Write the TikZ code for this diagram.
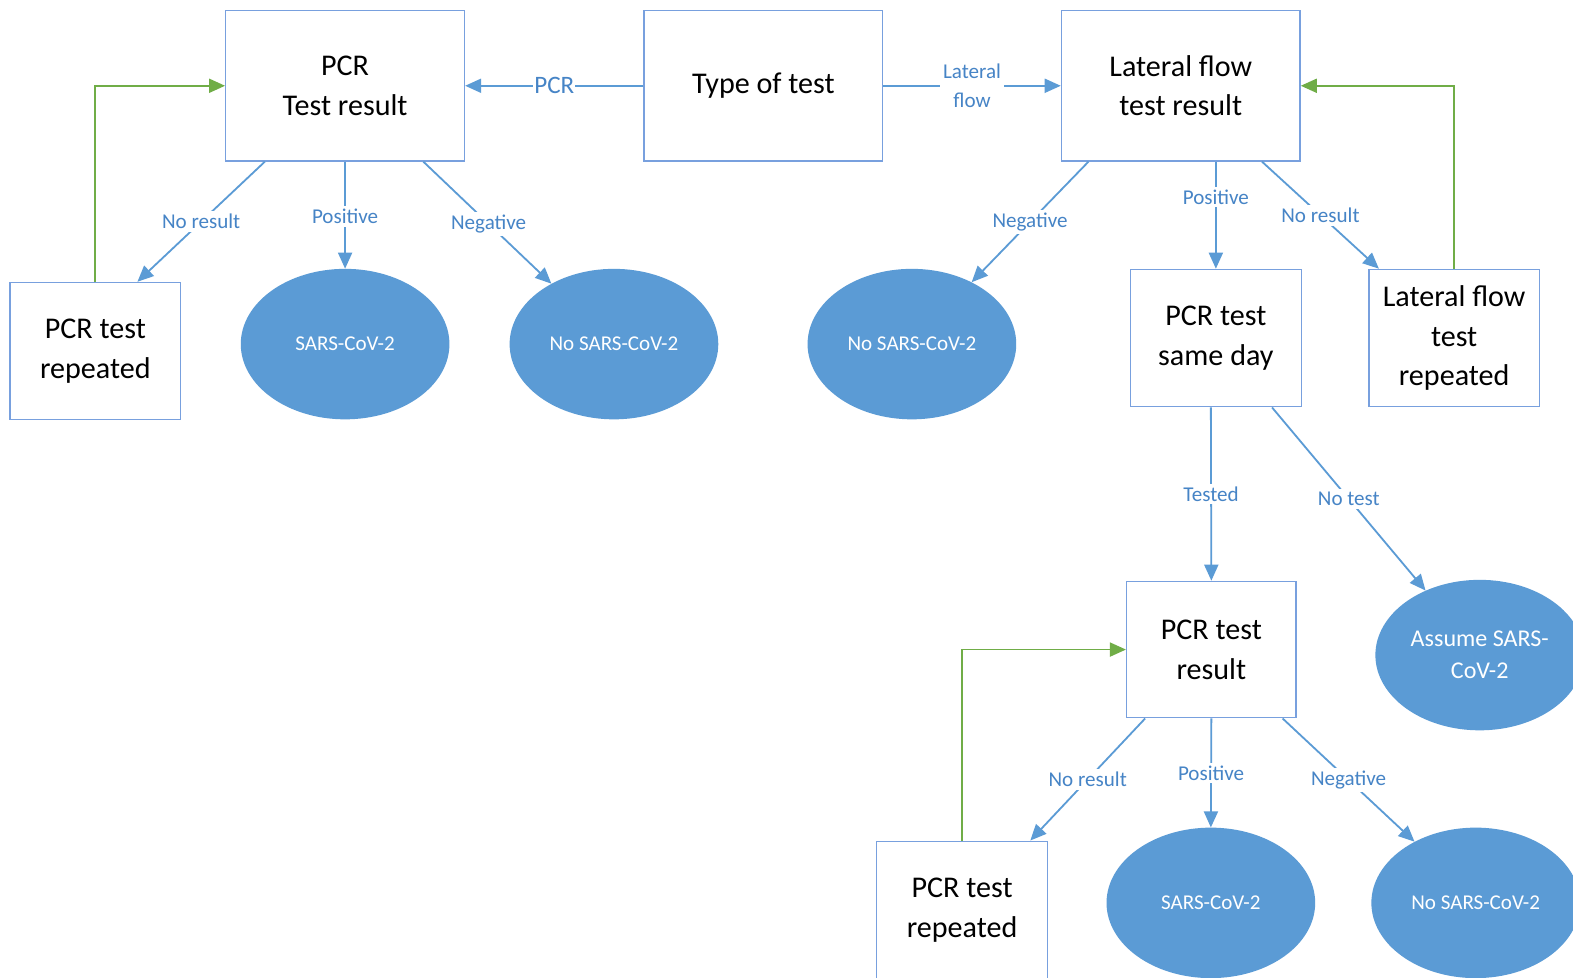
\documentclass[tikz,border=0pt]{standalone}
\usepackage{fontspec}
\setmainfont{Carlito}
\usetikzlibrary{arrows.meta,shapes.geometric}
\definecolor{lineblue}{RGB}{91,155,213}
\definecolor{boxblue}{RGB}{120,160,222}
\definecolor{lblblue}{RGB}{70,132,198}
\definecolor{fillblue}{RGB}{91,155,213}
\definecolor{lgreen}{RGB}{112,173,71}
\tikzset{
  box/.style={draw=boxblue, line width=1.3pt, fill=white, inner sep=0pt, align=center,
    font=\fontsize{30}{39.5}\selectfont},
  bigbox/.style={box, minimum width=238pt, minimum height=150pt},
  smallbox/.style={box, minimum width=170pt, minimum height=137pt},
  oval/.style={ellipse, fill=fillblue, draw=none, minimum width=208pt, minimum height=150pt,
    inner sep=0pt, align=center, text=white, font=\fontsize{21}{26}\selectfont},
  conn/.style={draw=lineblue, line width=1.8pt, -{Triangle[length=16pt,width=14pt]}},
  back/.style={draw=lgreen, line width=1.8pt, -{Triangle[length=16pt,width=14pt]}},
  lbl/.style={fill=white, text=lblblue, inner sep=3pt, align=center,
    font=\fontsize{21}{28}\selectfont}
}
\begin{document}
\begin{tikzpicture}[x=1pt,y=-1pt]
\useasboundingbox (0,0) rectangle (1568,974);
\clip (0,0) rectangle (1568,974);
\fill[white] (0,0) rectangle (1568,974);
% boxes
\node[bigbox] (pcr) at (344,85.5) {PCR\\Test result};
\node[bigbox] (type) at (761,85.5) {Type of test};
\node[bigbox] (lf) at (1177,85.5) {Lateral flow\\test result};
\node[smallbox] (rep1) at (95,350) {PCR test\\repeated};
\node[smallbox] (same) at (1212,337) {PCR test\\same day};
\node[smallbox] (lfrep) at (1449.5,337) {Lateral flow\\test\\repeated};
\node[smallbox, minimum width=169pt, minimum height=136pt] (pcr2) at (1207.5,647.5) {PCR test\\result};
\node[smallbox] (rep3) at (959,907) {PCR test\\repeated};
% ovals
\node[oval] (sars1) at (344,343) {SARS-CoV-2};
\node[oval] (nosars1) at (612,343) {No SARS-CoV-2};
\node[oval] (nosars2) at (909,343) {No SARS-CoV-2};
\node[oval, font=\fontsize{24}{32}\selectfont] (assume) at (1475,653) {Assume SARS-\\CoV-2};
\node[oval] (sars3) at (1207,900) {SARS-CoV-2};
\node[oval] (nosars3) at (1471,900) {No SARS-CoV-2};
% top connectors
\draw[conn] (type.west) -- node[lbl, pos=0.5, font=\fontsize{25}{30}\selectfont, inner sep=1pt]{PCR} (pcr.east);
\draw[conn] (type.east) -- node[lbl, pos=0.5]{Lateral\\flow} (lf.west);
% PCR result
\draw[conn] ([xshift=-80pt]pcr.south) -- node[lbl, pos=0.5]{No result} ([xshift=42pt]rep1.north);
\draw[conn] (pcr.south) -- node[lbl, pos=0.51]{Positive} (sars1.north);
\draw[conn] ([xshift=78pt]pcr.south) -- node[lbl, pos=0.51]{Negative} (nosars1.136);
\draw[back] (rep1.north) |- (pcr.west);
% Lateral flow result
\draw[conn] ([xshift=-92pt]lf.south) -- node[lbl, pos=0.5]{Negative} (nosars2.46);
\draw[conn] ([xshift=35pt]lf.south) -- node[lbl, pos=0.33]{Positive} (same.north);
\draw[conn] ([xshift=81pt]lf.south) -- node[lbl, pos=0.5]{No result} ([xshift=-75pt]lfrep.north);
\draw[back] (lfrep.north) |- (lf.east);
% PCR same day
\draw[conn] ([xshift=-5pt]same.south) -- node[lbl, pos=0.5]{Tested} (pcr2.north);
\draw[conn] ([xshift=56pt]same.south) -- node[lbl, pos=0.5]{No test} (assume.130);
% PCR test result
\draw[conn] ([xshift=-66pt]pcr2.south) -- node[lbl, pos=0.5]{No result} ([xshift=68pt]rep3.north);
\draw[conn] (pcr2.south) -- node[lbl, pos=0.5]{Positive} (sars3.north);
\draw[conn] ([xshift=71pt]pcr2.south) -- node[lbl, pos=0.5]{Negative} (nosars3.135);
\draw[back] (rep3.north) |- (pcr2.west);
\end{tikzpicture}
\end{document}
